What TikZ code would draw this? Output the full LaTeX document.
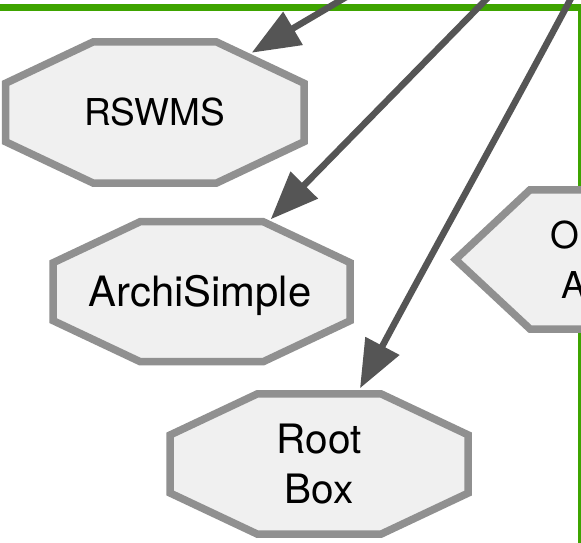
\documentclass[tikz,border=0pt]{standalone}
\usepackage{fontspec}
\setmainfont{TeX Gyre Heros}
\usetikzlibrary{arrows.meta}
\definecolor{clgreen}{RGB}{62,164,0}
\definecolor{nodefill}{RGB}{240,240,240}
\definecolor{nodeline}{RGB}{144,144,144}
\definecolor{edgecol}{RGB}{85,85,85}
\tikzset{
  octline/.style={draw=nodeline, fill=nodefill, line width=7.5pt, line join=miter},
  nodetext/.style={inner sep=0pt, text=black},
  edgeline/.style={draw=edgecol, line width=6.5pt, -{Triangle[length=48pt,width=37pt]}},
  cluster/.style={draw=clgreen, line width=7pt},
}
\newcommand{\octagondraw}[4]{%
  \draw[octline] (#1+#3,#2-0.414*#4) -- (#1+#3,#2+0.414*#4) -- (#1+0.414*#3,#2+#4) -- (#1-0.414*#3,#2+#4) -- (#1-#3,#2+0.414*#4) -- (#1-#3,#2-0.414*#4) -- (#1-0.414*#3,#2-#4) -- (#1+0.414*#3,#2-#4) -- cycle;}
\begin{document}
\begin{tikzpicture}[x=1pt,y=-1pt]
\useasboundingbox (0,0) rectangle (581,543);
\clip (0,0) rectangle (581,543);
\fill[white] (0,0) rectangle (581,543);
% cluster border
\draw[cluster] (-40,7.5) -- (581.5,7.5) -- (581.5,600);
% node shapes
\octagondraw{154.8}{112.5}{149.3}{70.5}
\octagondraw{201.7}{291.7}{148.5}{70}
\octagondraw{319.2}{464}{149}{70.2}
\draw[octline] (455.5,259.5) -- (530,189.8) -- (720,189.8) -- (795,259.5) -- (720,329) -- (530,329) -- cycle;
% node texts
\node[nodetext, font=\fontsize{37}{44}\selectfont, anchor=base] (rswms) at (154.5,125.3) {RSWMS};
\node[nodetext, font=\fontsize{41.8}{50}\selectfont, anchor=base] (archi) at (200,306.7) {ArchiSimple};
\node[nodetext, font=\fontsize{40.5}{50}\selectfont, align=center] (root) at (319.2,464) {Root\\Box};
\node[nodetext, font=\fontsize{37}{50}\selectfont, align=left, anchor=north west] (oa) at (550.3,221) {O\\\hspace*{10.9pt}A};
% edges
\coordinate (e1s) at (392,-30);
\coordinate (e1t) at (251.7,52.7);
\coordinate (e2s) at (515,-30);
\coordinate (e2t) at (270.7,219.3);
\coordinate (e3s) at (586,-30);
\coordinate (e3t) at (360,388.3);
\draw[edgeline] (e1s) -- (e1t);
\draw[edgeline] (e2s) -- (e2t);
\draw[edgeline] (e3s) .. controls (520,95) and (420,275) .. (e3t);
\end{tikzpicture}
\end{document}
